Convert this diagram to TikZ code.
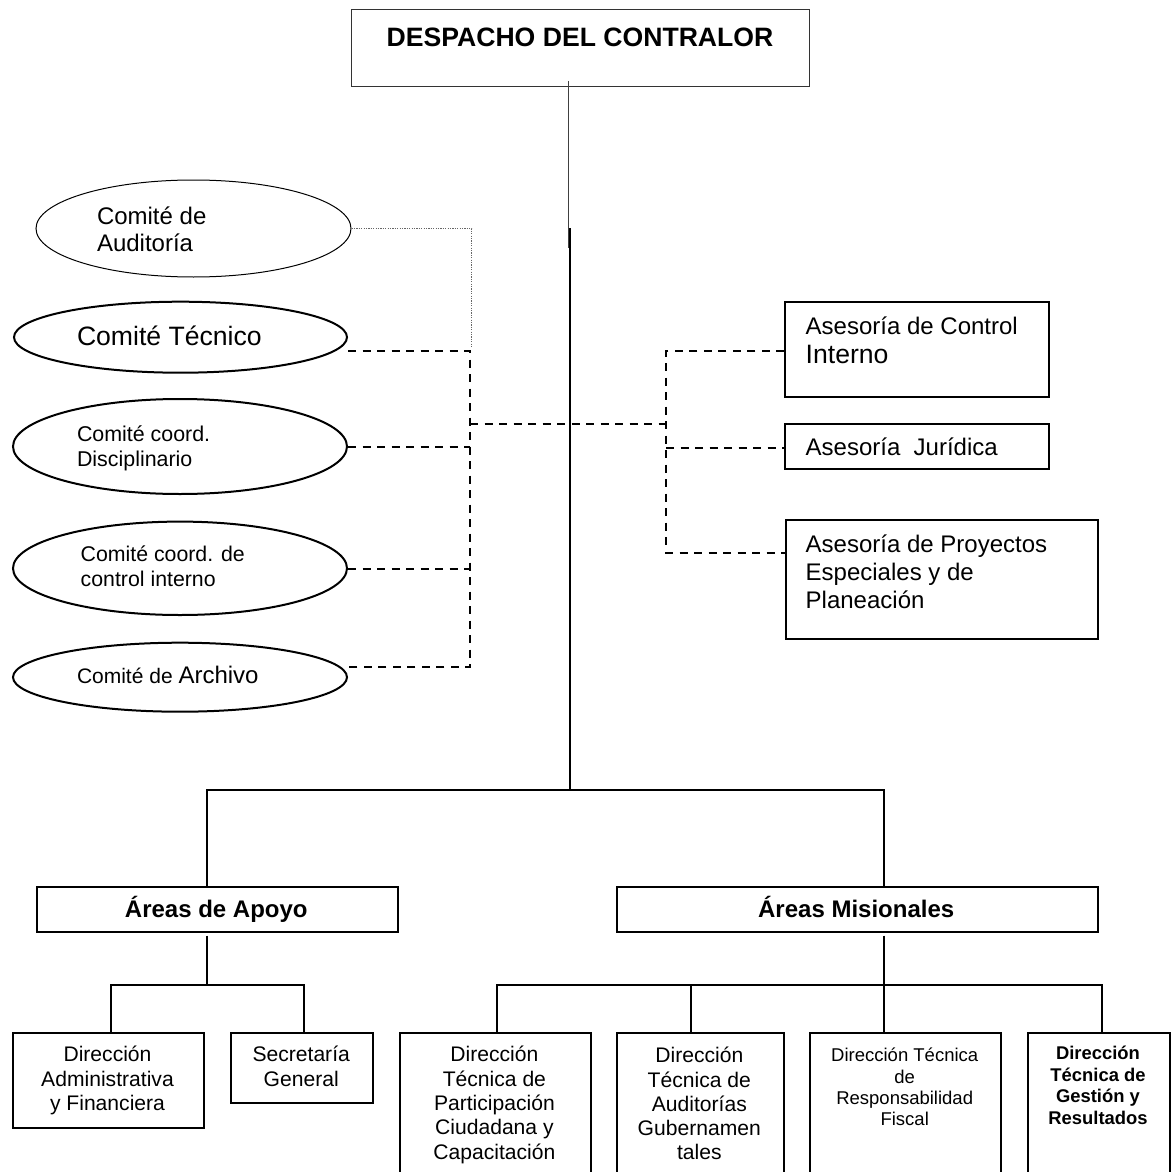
\documentclass[tikz,border=0pt]{standalone}
\usepackage{fontspec}
\setmainfont{Liberation Sans}
\usetikzlibrary{shapes.geometric}

\begin{document}
\begin{tikzpicture}[
    x=0.5pt, y=-0.5pt,
    link/.style={line width=1pt},
    dashlink/.style={line width=1pt, dash pattern=on 4pt off 3.25pt},
    dotlink/.style={line width=0.5pt, black!60, dash pattern=on 0.6pt off 0.6pt},
    box/.style={rectangle, draw, line width=1pt, inner sep=0pt, anchor=north west},
    oval/.style={ellipse, draw, line width=1pt, inner sep=0pt},
    txt/.style={inner sep=0pt, outer sep=0pt},
    ltxt/.style={txt, anchor=north west, align=left},
    ctxt/.style={txt, anchor=north, align=center}
  ]
    \useasboundingbox (0,0) rectangle (1171,1172);
    \fill[white] (0,0) rectangle (1171,1172);
    \clip (0,0) rectangle (1171,1172);
    % despacho
    \node[box, draw=black!80, line width=0.7pt, minimum width=229pt, minimum height=38.5pt] (desp) at (351,9) {};
    \node[txt, anchor=base, font=\fontsize{13.3}{15.3}\selectfont\bfseries] (tdesp) at (580,47) {DESPACHO DEL CONTRALOR};
    \coordinate (s1) at (568,81);
    \coordinate (s2) at (568,248);
    \coordinate (m1) at (569.5,228);
    \coordinate (m2) at (569.5,790);
    \draw[line width=0.5pt, black!75] (s1) -- (s2);
    \draw[link] (m1) -- (m2);
    % comites
    \begin{scope}
      \node[oval, line width=0.5pt, minimum width=157.5pt, minimum height=48.5pt] (audit) at (193.5,228.5) {};
      \node[ltxt, font=\fontsize{12}{13.35}\selectfont] (taudit) at (97,206.3) {\strut Comité de\\Auditoría};
      \node[oval, minimum width=166.5pt, minimum height=35.5pt] (tec) at (180.5,337.2) {};
      \node[txt, anchor=base west, font=\fontsize{13.3}{15.3}\selectfont] (ttec) at (77,345.7) {Comité Técnico};
      \node[oval, minimum width=167pt, minimum height=47.5pt] (disc) at (180,446.5) {};
      \node[ltxt, font=\fontsize{10.7}{12.15}\selectfont] (tdisc) at (77,424.7) {\strut Comité coord.\\Disciplinario};
      \node[oval, minimum width=167pt, minimum height=46.7pt] (cint) at (180,568.3) {};
      \node[ltxt, font=\fontsize{10.65}{12.5}\selectfont] (tcint) at (80.7,544.2) {\strut Comité coord. de\\control interno};
      \node[oval, minimum width=167pt, minimum height=34.5pt] (arch) at (180,677.2) {};
      \node[txt, anchor=base west, font=\fontsize{10.5}{12}\selectfont] (tarch) at (77,683) {Comité de {\fontsize{12}{14}\selectfont Archivo}};
      \coordinate (dA) at (471.7,228.5);
      \coordinate (dB) at (471.7,346.7);
      \coordinate (lT) at (470,351);
      \coordinate (lM) at (470,424);
      \coordinate (lD) at (470,447.3);
      \coordinate (lC) at (470,569);
      \coordinate (lR) at (470,667.3);
      \draw[dotlink] (audit.east) -- (dA) -- (dB);
      \draw[dashlink] (tec.east |- lT) -- (lT) -- (lR) -- (arch.east |- lR);
      \draw[dashlink] (disc.east |- lD) -- (lD);
      \draw[dashlink] (cint.east |- lC) -- (lC);
    \end{scope}
    % asesorias
    \begin{scope}
      \node[box, minimum width=132pt, minimum height=47.5pt] (ctrl) at (784.3,300.7) {};
      \node[ltxt, font=\fontsize{12}{14.65}\selectfont] (tctrl) at (805.7,313.5) {\strut Asesoría de Control\\{\fontsize{13.3}{14.65}\selectfont Interno}};
      \node[box, minimum width=132pt, minimum height=22.8pt] (jur) at (784.3,422.7) {};
      \node[txt, anchor=base west, font=\fontsize{12}{14}\selectfont] (tjur) at (805.7,455) {Asesoría\ \ Jurídica};
      \node[box, minimum width=156.15pt, minimum height=59.65pt] (proy) at (785,519) {};
      \node[ltxt, font=\fontsize{12}{13.9}\selectfont] (tproy) at (805.7,533.2) {\strut Asesoría de Proyectos\\Especiales y de\\Planeación};
      \coordinate (rT) at (666,351);
      \coordinate (rM) at (666,424);
      \coordinate (rJ) at (666,448.3);
      \coordinate (rP) at (666,552.7);
      \draw[dashlink] (lM) -- (rM);
      \draw[dashlink] (ctrl.west |- rT) -- (rT) -- (rP) -- (proy.west |- rP);
      \draw[dashlink] (rJ) -- (jur.west |- rJ);
    \end{scope}
    % areas
    \node[box, minimum width=180.35pt, minimum height=22.65pt] (apoyo) at (36,885.7) {};
    \node[txt, anchor=base, font=\fontsize{12}{14}\selectfont\bfseries] (tapoyo) at (216.3,917.7) {Áreas de Apoyo};
    \node[box, minimum width=240.5pt, minimum height=22.65pt] (mis) at (615.7,885.7) {};
    \node[txt, anchor=base, font=\fontsize{12}{14}\selectfont\bfseries] (tmis) at (856.2,917.7) {Áreas Misionales};
    \coordinate (bA) at (207.3,790);
    \coordinate (bM) at (883.5,790);
    \draw[link] (apoyo.north -| bA) -- (bA) -- (bM) -- (mis.north -| bM);
    % direcciones de apoyo
    \node[box, minimum width=95.5pt, minimum height=47.5pt] (adm) at (12,1031.7) {};
    \node[ctxt, font=\fontsize{10.55}{12.3}\selectfont] (tadm) at (107.5,1044.4) {\strut Dirección\\Administrativa\\y Financiera};
    \node[box, minimum width=71.15pt, minimum height=35pt] (sec) at (230,1031.7) {};
    \node[ctxt, font=\fontsize{10.55}{12.5}\selectfont] (tsec) at (301.2,1044.2) {\strut Secretaría\\General};
    \coordinate (uA) at (207.3,935.7);
    \coordinate (hA) at (207.3,985);
    \coordinate (a1) at (110.7,985);
    \coordinate (a2) at (304,985);
    \draw[link] (uA) -- (hA);
    \draw[link] (adm.north -| a1) -- (a1) -- (a2) -- (sec.north -| a2);
    % direcciones misionales
    \node[box, minimum width=95.5pt, minimum height=85pt] (part) at (399,1031.7) {};
    \node[ctxt, font=\fontsize{10.55}{12.2}\selectfont] (tpart) at (494.4,1044.6) {\strut Dirección\\Técnica de\\Participación\\Ciudadana y\\Capacitación};
    \node[box, minimum width=83.5pt, minimum height=85pt] (aud) at (615.7,1031.7) {};
    \node[ctxt, font=\fontsize{10.55}{12.15}\selectfont] (taud) at (699.3,1045.7) {\strut Dirección\\Técnica de\\Auditorías\\Gubernamen\\tales};
    \node[box, minimum width=95.35pt, minimum height=85pt] (resp) at (809.3,1031.7) {};
    \node[ctxt, font=\fontsize{9.25}{10.65}\selectfont] (tresp) at (904.7,1046.8) {\strut Dirección Técnica\\de\\Responsabilidad\\Fiscal};
    \node[box, minimum width=71.3pt, minimum height=85pt] (gest) at (1026.7,1031.7) {};
    \node[ctxt, font=\fontsize{9.2}{10.7}\selectfont\bfseries] (tgest) at (1098,1045) {\strut Dirección\\Técnica de\\Gestión y\\Resultados};
    \coordinate (uM) at (883.5,935.7);
    \coordinate (b1) at (497.3,985);
    \coordinate (b2) at (690.7,985);
    \coordinate (b3) at (883.5,985);
    \coordinate (b4) at (1101.7,985);
    \draw[link] (uM) -- (b3);
    \draw[link] (part.north -| b1) -- (b1) -- (b4) -- (gest.north -| b4);
    \draw[link] (b2) -- (aud.north -| b2);
    \draw[link] (b3) -- (resp.north -| b3);
\end{tikzpicture}
\end{document}
